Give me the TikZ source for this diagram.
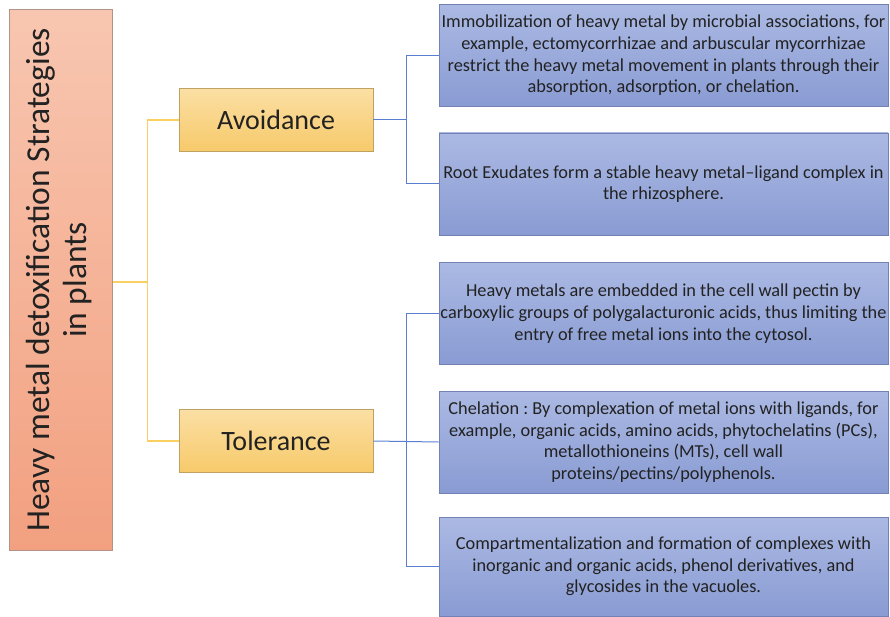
\documentclass[tikz,border=0pt]{standalone}
\usepackage{fontspec}
\setmainfont{Carlito}
\frenchspacing
\definecolor{roottop}{HTML}{F8C6B0}
\definecolor{rootbot}{HTML}{F2A080}
\definecolor{rootborder}{HTML}{B09488}
\definecolor{midtop}{HTML}{FBDFA4}
\definecolor{midbot}{HTML}{F7CA6A}
\definecolor{midborder}{HTML}{BFA262}
\definecolor{leaftop}{HTML}{ABB9E3}
\definecolor{leafbot}{HTML}{899BD3}
\definecolor{leafborder}{HTML}{7382B4}
\definecolor{ycol}{HTML}{FAD060}
\definecolor{bcol}{HTML}{5A7FD0}
\definecolor{textc}{HTML}{222222}
\begin{document}
\begin{tikzpicture}[x=1pt,y=-1pt,
  rootbox/.style={draw=rootborder, line width=0.8pt, top color=roottop, bottom color=rootbot, minimum width=103pt, minimum height=541pt, inner sep=0pt, align=center, text=textc, font=\fontsize{33.5}{37}\selectfont},
  midbox/.style={draw=midborder, line width=0.8pt, top color=midtop, bottom color=midbot, minimum width=194pt, minimum height=63pt, inner sep=0pt, text=textc, font=\fontsize{28}{32}\selectfont},
  leafbox/.style={draw=leafborder, line width=0.8pt, top color=leaftop, bottom color=leafbot, minimum width=449pt, minimum height=102pt, inner sep=0pt, align=center, text=textc, font=\fontsize{18.3}{21.7}\selectfont},
  yline/.style={draw=ycol, line width=1.3pt},
  bline/.style={draw=bcol, line width=1pt}]
\useasboundingbox (0,0) rectangle (890,617);

\node[rootbox] (root) at (61,280) {\rotatebox{90}{\begin{tabular}{@{}c@{}}Heavy metal detoxification Strategies\\in plants\end{tabular}}};

\node[midbox] (avoid) at (276,120) {Avoidance};
\node[midbox] (tol) at (276,441) {Tolerance};

\node[leafbox] (a1) at (663.5,55.5) {Immobilization of heavy metal by microbial associations, for\\example, ectomycorrhizae and arbuscular mycorrhizae\\restrict the heavy metal movement in plants through their\\absorption, adsorption, or chelation.};
\node[leafbox] (a2) at (663.5,184) {Root Exudates form a stable heavy metal--ligand complex in\\the rhizosphere.};
\node[leafbox] (t1) at (663.5,313.5) {Heavy metals are embedded in the cell wall pectin by\\carboxylic groups of polygalacturonic acids, thus limiting the\\entry of free metal ions into the cytosol.};
\node[leafbox] (t2) at (663.5,442) {Chelation : By complexation of metal ions with ligands, for\\example, organic acids, amino acids, phytochelatins (PCs),\\metallothioneins (MTs), cell wall\\proteins/pectins/polyphenols.};
\node[leafbox, minimum height=99pt] (t3) at (663.5,566.5) {Compartmentalization and formation of complexes with\\inorganic and organic acids, phenol derivatives, and\\glycosides in the vacuoles.};

\coordinate (yv) at (148,282);
\draw[yline] (root.east |- yv) -- (yv);
\draw[yline] (avoid.west) -- ++(-31,0) |- (tol.west);

\draw[bline] (avoid.east) -- ++(34,0);
\draw[bline] (a1.west) -- ++(-32,0) |- (a2.west);
\draw[bline] (tol.east) -- (t2.west);
\draw[bline] (t1.west) -- ++(-32,0) |- (t3.west);
\end{tikzpicture}
\end{document}
